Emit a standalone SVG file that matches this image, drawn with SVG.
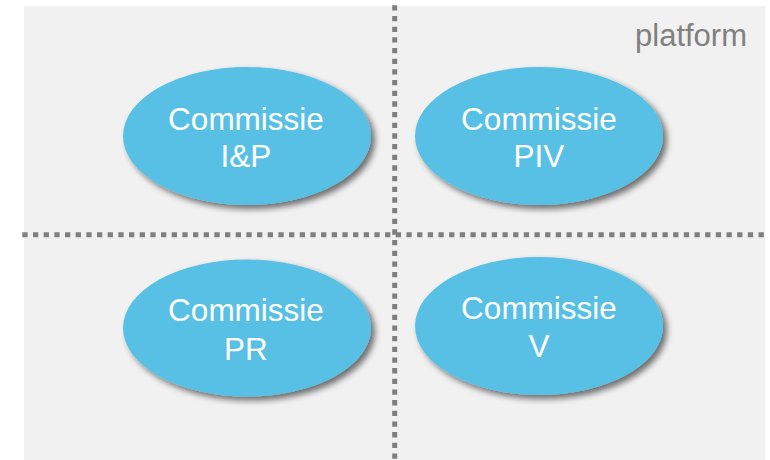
<svg xmlns="http://www.w3.org/2000/svg" width="770" height="460" viewBox="0 0 770 460">
<defs>
<filter id="sh" x="-20%" y="-20%" width="150%" height="150%">
<feGaussianBlur in="SourceAlpha" stdDeviation="3"/>
<feOffset dx="4" dy="4" result="b"/>
<feComponentTransfer><feFuncA type="linear" slope="0.55"/></feComponentTransfer>
<feMerge><feMergeNode/><feMergeNode in="SourceGraphic"/></feMerge>
</filter>
</defs>
<style>
.bg{fill:#f1f1f1}
.div{stroke:#7f7f7f;stroke-width:5;stroke-dasharray:5.3 5.37;fill:none}
.node ellipse{fill:#58c0e5;filter:url(#sh)}
.node text{fill:#ffffff;font-family:"Liberation Sans",Arial,sans-serif;font-size:31.5px;text-anchor:middle}
.lbl{fill:#808080;font-family:"Liberation Sans",Arial,sans-serif;font-size:31px;text-anchor:end}
</style>
<rect class="bg" x="24" y="6" width="741" height="454"/>
<g id="connectors">
<line class="div" x1="394.7" y1="5.3" x2="394.7" y2="460"/>
<line class="div" x1="22.3" y1="234.7" x2="765" y2="234.7"/>
</g>
<text class="lbl" x="747" y="46">platform</text>
<g id="node-ip" class="node">
<ellipse cx="247" cy="136" rx="124" ry="69"/>
<text x="246" y="130">Commissie</text>
<text x="246" y="167">I&amp;P</text>
</g>
<g id="node-piv" class="node">
<ellipse cx="539" cy="136" rx="124" ry="69"/>
<text x="539" y="130">Commissie</text>
<text x="539" y="167">PIV</text>
</g>
<g id="node-pr" class="node">
<ellipse cx="247" cy="328" rx="124" ry="68.5"/>
<text x="246" y="321">Commissie</text>
<text x="246" y="360">PR</text>
</g>
<g id="node-v" class="node">
<ellipse cx="539" cy="326" rx="124" ry="69"/>
<text x="539" y="319">Commissie</text>
<text x="539" y="357">V</text>
</g>
</svg>
